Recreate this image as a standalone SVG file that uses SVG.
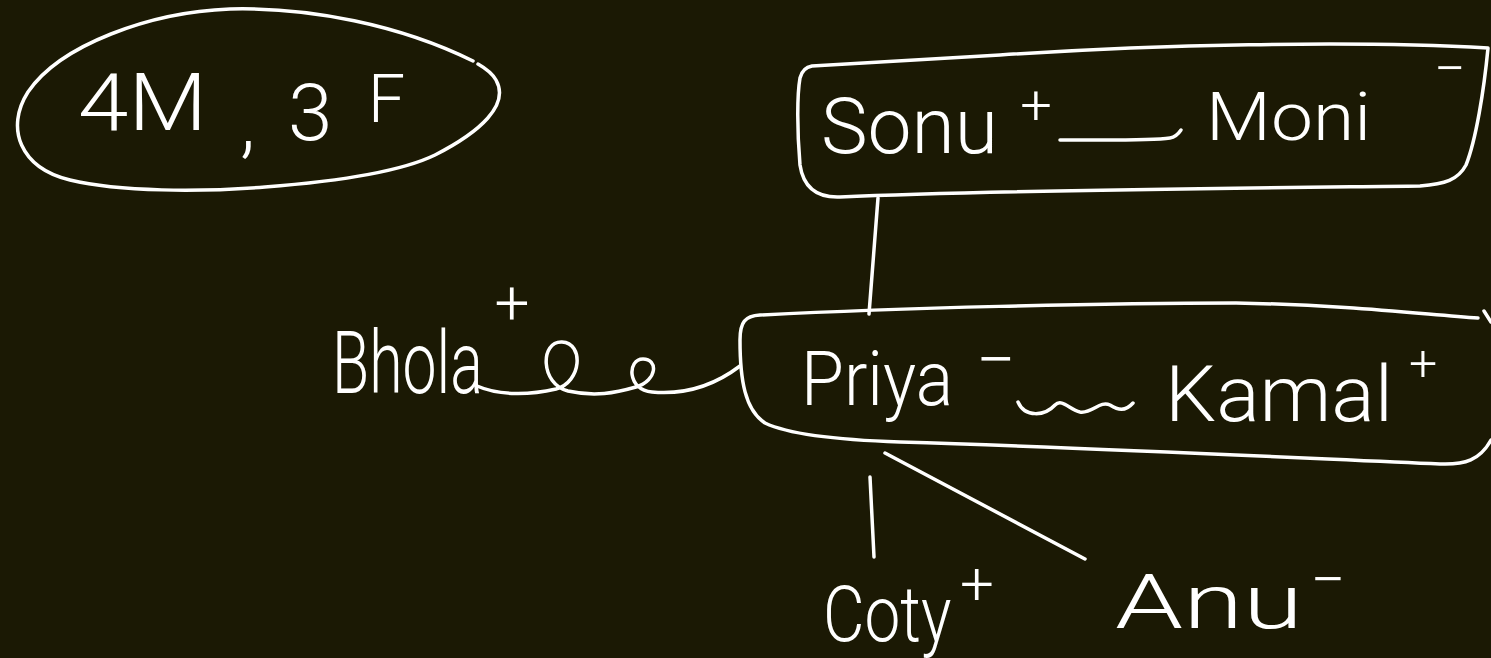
<svg xmlns="http://www.w3.org/2000/svg" width="1491" height="658" viewBox="0 0 1491 658">
<style>
.ink{fill:none;stroke:#ffffff;stroke-width:3.5;stroke-linecap:round;stroke-linejoin:round}
.t{fill:#ffffff;font-family:Roboto,"Liberation Sans",sans-serif;font-weight:300}
</style>
<rect width="1491" height="658" fill="#1b1904"/>
<g id="count">
<path class="ink" d="M 473,61 C 400,25 310,7 230,9 C 150,12 60,45 28,92 C 5,128 20,168 70,180 C 120,192 200,192 265,187 C 330,182 400,172 435,155 C 480,132 510,105 496,80 C 492,73 485,68 478,64"/>
<text class="t" font-size="80"><tspan x="78" y="130" textLength="129" lengthAdjust="spacingAndGlyphs">4M</tspan><tspan x="240" y="148">,</tspan> <tspan x="288" y="140">3</tspan> <tspan x="368" y="122" font-size="66">F</tspan></text>
</g>
<g id="sonu-moni">
<path class="ink" d="M 812,66 L 1000,55 C 1150,45 1350,40 1488,48 C 1484,90 1476,140 1466,165 C 1458,180 1445,184 1420,186 C 1250,188 1000,190 840,197 C 815,198 803,185 800,165 C 797,130 797,95 800,78 C 802,70 806,67 812,66 Z"/>
<text class="t" font-size="78"><tspan x="821" y="153" textLength="177" lengthAdjust="spacingAndGlyphs">Sonu</tspan><tspan x="1036" y="124" font-size="56" text-anchor="middle">+</tspan></text>
<text class="t" font-size="66"><tspan x="1206" y="140" textLength="165" lengthAdjust="spacingAndGlyphs">Moni</tspan><tspan x="1450" y="88" font-size="56" text-anchor="middle">−</tspan></text>
</g>
<g id="priya-kamal">
<path class="ink" d="M 1491,440 C 1480,460 1465,465 1440,464 C 1300,458 1100,448 900,442 C 840,440 790,435 765,423 C 745,410 740,380 740,340 C 740,322 745,316 760,315 C 900,308 1100,303 1236,303 C 1350,305 1420,314 1478,318"/>
<path class="ink" d="M 1484,311 L 1491,322"/>
<text class="t" font-size="76"><tspan x="801" y="405" textLength="152" lengthAdjust="spacingAndGlyphs">Priya</tspan><tspan x="996" y="384" font-size="70" text-anchor="middle">−</tspan></text>
<text class="t" font-size="78"><tspan x="1165" y="421" textLength="228" lengthAdjust="spacingAndGlyphs">Kamal</tspan><tspan x="1423" y="380" font-size="50" text-anchor="middle">+</tspan></text>
</g>
<g id="bhola">
<text class="t" font-size="88" transform="matrix(0.69,0,0,1,332,393)">Bhola</text>
<text class="t" x="512" y="324" font-size="62" text-anchor="middle">+</text>
</g>
<g id="coty">
<text class="t" font-size="78" transform="matrix(0.82,0,0,1,823,641)">Coty</text>
<text class="t" x="977" y="604" font-size="60" text-anchor="middle">+</text>
</g>
<g id="anu">
<text class="t" font-size="76"><tspan x="1115" y="628" textLength="188" lengthAdjust="spacingAndGlyphs">Anu</tspan><tspan x="1328" y="601" font-size="62" text-anchor="middle">−</tspan></text>
</g>
<g id="connectors">
<path class="ink" d="M 1060,140 C 1100,140 1150,141 1170,138 C 1176,137 1179,133 1181,130"/>
<path class="ink" d="M 878,198 L 869,314"/>
<path class="ink" d="M 477,386 C 500,396 530,395 556,389 C 582,382 584,343 562,342 C 540,341 540,384 568,391 C 595,397 615,393 636,387 C 658,380 658,359 643,359 C 627,359 627,390 652,392 C 685,395 715,385 740,366"/>
<path class="ink" d="M 1018,402 C 1025,418 1045,416 1055,405 C 1062,398 1070,410 1080,412 C 1092,414 1100,400 1110,405 C 1118,410 1125,412 1133,403"/>
<path class="ink" d="M 885,453 L 1085,559"/>
<path class="ink" d="M 870,477 L 874,557"/>
</g>
</svg>
